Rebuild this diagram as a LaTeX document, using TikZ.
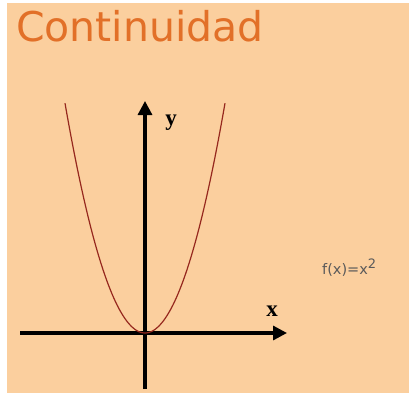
\documentclass[tikz,border=0pt]{standalone}
\usepackage{fontspec}
\setmainfont{DejaVu Sans}
\newfontfamily\serifbold{Liberation Serif}
\usetikzlibrary{arrows.meta}
\definecolor{bgpeach}{RGB}{251,207,158}
\definecolor{titleorange}{RGB}{226,112,40}
\definecolor{curvered}{RGB}{150,40,30}
\definecolor{labelgray}{RGB}{90,90,90}
\tikzset{
  axis/.style={line width=3.2pt, -{Triangle[width=14pt,length=14pt]}},
  axislabel/.style={font=\serifbold\bfseries\fontsize{23}{23}\selectfont, text=black, inner sep=0pt},
  curve/.style={draw=curvered, line width=1.2pt},
}
\begin{document}
\begin{tikzpicture}[x=1pt,y=-1pt]
\useasboundingbox (0,0) rectangle (409,393);
\fill[white] (0,0) rectangle (409,393);
\fill[bgpeach] (7,3) rectangle (409,393);
\node[anchor=base west, inner sep=0pt, text=titleorange, font=\fontsize{41}{41}\selectfont] (title) at (16,42) {Continuidad};
\coordinate (xl) at (20,333);
\coordinate (xr) at (287,333);
\coordinate (yb) at (145,389);
\coordinate (yt) at (145,101);
\draw[axis] (xl) -- (xr);
\draw[axis] (yb) -- (yt);
\draw[curve] plot[domain=-80:80, samples=81] ({145+\x},{333-0.0359*\x*\x});
\node[axislabel] (ylab) at (171,123) {y};
\node[axislabel] (xlab) at (272,311) {x};
\node[anchor=base west, inner sep=0pt, text=labelgray, font=\fontsize{14.5}{14.5}\selectfont] (fx) at (322,274) {f(x)=x\textsuperscript{\fontsize{13}{13}\selectfont 2}};
\end{tikzpicture}
\end{document}
